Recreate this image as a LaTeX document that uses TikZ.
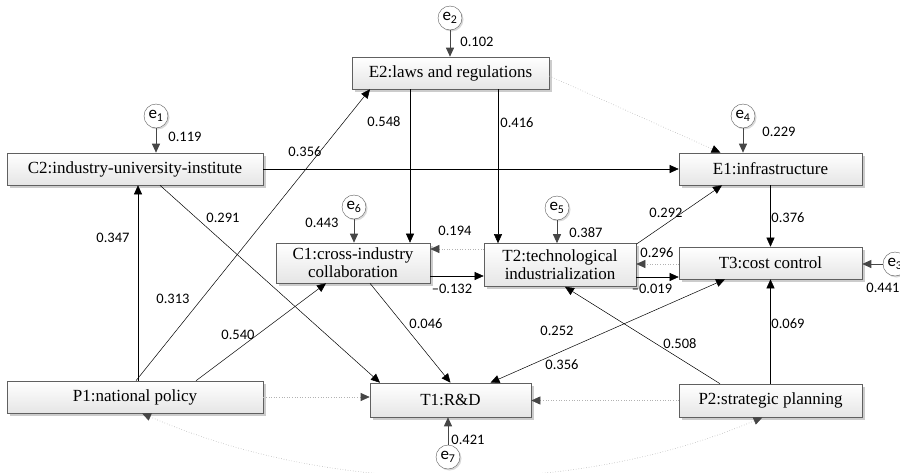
\documentclass[tikz,border=0pt]{standalone}
\usepackage{fontspec}
\setmainfont{Liberation Serif}
\newfontfamily\numfont{Carlito}
\usetikzlibrary{arrows.meta,shadows}
\begin{document}
\begin{tikzpicture}[x=1pt,y=-1pt,
  box/.style={draw=gray!75!black, line width=0.6pt, top color=white, bottom color=gray!20,
    drop shadow={shadow xshift=2.5pt, shadow yshift=-2.5pt, fill=gray!40, opacity=1},
    font=\fontsize{17}{18}\selectfont, align=center, inner sep=0pt},
  err/.style={circle, draw=gray!70!black, fill=white, minimum size=24pt, inner sep=0pt,
    drop shadow={shadow xshift=1.5pt, shadow yshift=-1.5pt, fill=gray!30, opacity=1},
    font=\numfont\fontsize{17}{17}\selectfont},
  lab/.style={font=\numfont\fontsize{14.5}{15}\selectfont, inner sep=0pt},
  tip/.style={-{Triangle[length=9pt,width=8pt]}},
  arr/.style={draw=black, line width=0.5pt, tip},
  earr/.style={draw=gray!55!black, line width=0.9pt, -{Triangle[length=9pt,width=8pt,color=gray!55!black]}},
  dotarr/.style={draw=gray!60, dotted, line width=0.6pt, -{Triangle[length=9pt,width=8pt,color=gray!55!black]}},
  dotboth/.style={draw=gray!60, dotted, line width=0.6pt, {Triangle[length=9pt,width=8pt,color=gray!55!black]}-{Triangle[length=9pt,width=8pt,color=gray!55!black]}}
]
\useasboundingbox (0,0) rectangle (900,472);
\clip (0,0) rectangle (900,472);

% boxes
\node[box, minimum width=197pt, minimum height=32pt] (E2) at (450.5,73) {E2:laws and regulations};
\node[box, minimum width=256pt, minimum height=32pt] (C2) at (135,169) {C2:industry-university-institute};
\node[box, minimum width=183pt, minimum height=32pt] (E1) at (770.5,169) {E1:infrastructure};
\node[box, minimum width=154pt, minimum height=40pt] (C1) at (353,263) {C1:cross-industry\\collaboration};
\node[box, minimum width=152pt, minimum height=43pt] (T2) at (560,265) {T2:technological\\industrialization};
\node[box, minimum width=183pt, minimum height=32pt] (T3) at (770.5,263) {T3:cost control};
\node[box, minimum width=256pt, minimum height=32pt] (P1) at (135,397) {P1:national policy};
\node[box, minimum width=161pt, minimum height=34pt] (T1) at (450.5,400) {T1:R\&D};
\node[box, minimum width=183pt, minimum height=33pt] (P2) at (770.5,400.5) {P2:strategic planning};

% error terms
\node[err] (e2) at (450,18) {e\textsubscript{2}};
\node[err] (e1) at (156,116) {e\textsubscript{1}};
\node[err] (e4) at (743,116) {e\textsubscript{4}};
\node[err] (e6) at (354,207) {e\textsubscript{6}};
\node[err] (e5) at (557,208) {e\textsubscript{5}};
\node[err] (e7) at (448,457) {e\textsubscript{7}};
\node[err] (e3) at (895,264) {e\textsubscript{3}};

\draw[earr] (e2) -- (e2.south |- E2.north);
\draw[earr] (e1) -- (e1.south |- C2.north);
\draw[earr] (e4) -- (e4.south |- E1.north);
\draw[earr] (e6) -- (e6.south |- C1.north);
\draw[earr] (e5) -- (e5.south |- T2.north);
\draw[earr] (e7) -- (e7.north |- T1.south);
\draw[earr] (e3) -- (e3.west -| T3.east);

% paths
\draw[arr] (C2.east) -- (E1.west);
\draw[arr] ([xshift=3pt]P1.north) -- ([xshift=3pt]C2.south);
\draw[arr] ([xshift=1pt]P1.north) -- ([xshift=-80.5pt]E2.south);
\draw[arr] ([xshift=61pt]P1.north) -- ([xshift=-27pt]C1.south);
\draw[arr] ([xshift=25pt]C2.south) -- ([xshift=-70.5pt]T1.north);
\draw[arr] ([xshift=-40.5pt]E2.south) -- ([xshift=-40.5pt]E2.south |- C1.north);
\draw[arr] ([xshift=47.5pt]E2.south) -- ([xshift=47.5pt]E2.south |- T2.north);
\draw[arr] ([yshift=-13pt]C1.east) -- ([yshift=-13pt]C1.east -| T2.west);
\draw[dotarr] ([yshift=16pt]T2.west) -- ([yshift=16pt]T2.west -| C1.east);
\draw[arr] ([xshift=17pt]C1.south) -- (T1.north);
\draw[arr] ([yshift=-1pt]T2.north east) -- ([xshift=-48.5pt]E1.south);
\draw[arr] (E1.south) -- (T3.north);
\draw[arr] ([yshift=-12pt]T2.east) -- ([yshift=-12pt]T2.east -| T3.west);
\draw[dotarr] ([yshift=-1pt]T3.west) -- ([yshift=-1pt]T3.west -| T2.east);
\draw[arr, {Triangle[length=9pt,width=8pt]}-{Triangle[length=9pt,width=8pt]}] ([xshift=-45.5pt]T3.south) -- ([xshift=40pt]T1.north);
\draw[arr] ([xshift=-50.5pt]P2.north) -- ([xshift=5pt]T2.south);
\draw[arr] (P2.north) -- (T3.south);
\draw[draw=gray!60, dotted, line width=0.6pt, -{Triangle[length=9pt,width=8pt,color=black]}] ([yshift=-3pt]E2.east) -- ([xshift=-50pt]E1.north);
\draw[dotarr] (P2.west) -- (P2.west -| T1.east);
\draw[dotarr] (P1.east) -- (P1.east -| T1.west);
\draw[dotboth] ([xshift=7pt]P1.south) .. controls (335,497) and (575,497) .. ([xshift=-8pt]P2.south);

% coefficients
\node[lab] (l1) at (477,42) {0.102};
\node[lab] (l2) at (185,137) {0.119};
\node[lab] (l3) at (779,132) {0.229};
\node[lab] (l4) at (305,152) {0.356};
\node[lab] (l5) at (384,122) {0.548};
\node[lab] (l6) at (517,123) {0.416};
\node[lab] (l7) at (223,218) {0.291};
\node[lab] (l8) at (322,223) {0.443};
\node[lab] (l9) at (455,231) {0.194};
\node[lab] (l10) at (586,233) {0.387};
\node[lab] (l11) at (666,213) {0.292};
\node[lab] (l12) at (788,218) {0.376};
\node[lab] (l13) at (113,238) {0.347};
\node[lab] (l14) at (173,299) {0.313};
\node[lab] (l15) at (238,335) {0.540};
\node[lab] (l16) at (452,289) {–0.132};
\node[lab] (l17) at (426,324) {0.046};
\node[lab] (l18) at (657,253) {0.296};
\node[lab] (l19) at (652,289) {–0.019};
\node[lab] (l20) at (883,288) {0.441};
\node[lab] (l21) at (557,331) {0.252};
\node[lab] (l22) at (680,344) {0.508};
\node[lab] (l23) at (562,365) {0.356};
\node[lab] (l24) at (788,324) {0.069};
\node[lab] (l25) at (468,440) {0.421};
\end{tikzpicture}
\end{document}
